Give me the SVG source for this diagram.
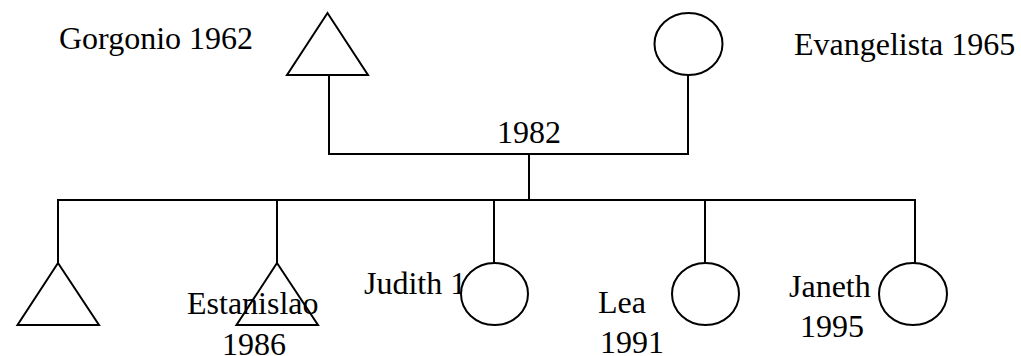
<svg xmlns="http://www.w3.org/2000/svg" width="1021" height="356" viewBox="0 0 1021 356">
<style>
.s{fill:#fff;stroke:#000;stroke-width:2}
.l{fill:none;stroke:#000;stroke-width:2}
text{font-family:"Liberation Serif","Times New Roman",serif;font-size:32px;fill:#000}
</style>
<rect width="1021" height="356" fill="#fff"/>
<g id="connectors">
<polyline class="l" points="329,75 329,154 688,154 688,75"/>
<line class="l" x1="529" y1="154" x2="529" y2="200"/>
<line class="l" x1="57" y1="200" x2="916" y2="200"/>
<line class="l" x1="58" y1="200" x2="58" y2="263"/>
<line class="l" x1="277" y1="200" x2="277" y2="263"/>
<line class="l" x1="494" y1="200" x2="494" y2="263"/>
<line class="l" x1="705" y1="200" x2="705" y2="263"/>
<line class="l" x1="915" y1="200" x2="915" y2="263"/>
</g>
<g id="gorgonio">
<polygon class="s" points="327.5,13 287,75 368,75"/>
<text x="59" y="49">Gorgonio 1962</text>
</g>
<g id="evangelista">
<ellipse class="s" cx="688.5" cy="44" rx="34" ry="31"/>
<text x="794" y="55">Evangelista 1965</text>
</g>
<g id="marriage">
<text x="497" y="143">1982</text>
</g>
<g id="child1">
<polygon class="s" points="58,263 17.5,325 99,325"/>
</g>
<g id="estanislao">
<text x="187" y="314">Estanislao</text>
<text x="222" y="355">1986</text>
<polygon class="l" points="277,263 236.5,325 318,325"/>
</g>
<g id="judith">
<text x="364" y="294">Judith 1</text>
<ellipse class="s" cx="494.5" cy="294" rx="33.5" ry="31"/>
</g>
<g id="lea">
<ellipse class="s" cx="705.5" cy="294" rx="33.5" ry="31"/>
<text x="598" y="313">Lea</text>
<text x="600" y="353">1991</text>
</g>
<g id="janeth">
<ellipse class="s" cx="913" cy="294" rx="34" ry="31"/>
<text x="789" y="297">Janeth</text>
<text x="800" y="337">1995</text>
</g>
</svg>
